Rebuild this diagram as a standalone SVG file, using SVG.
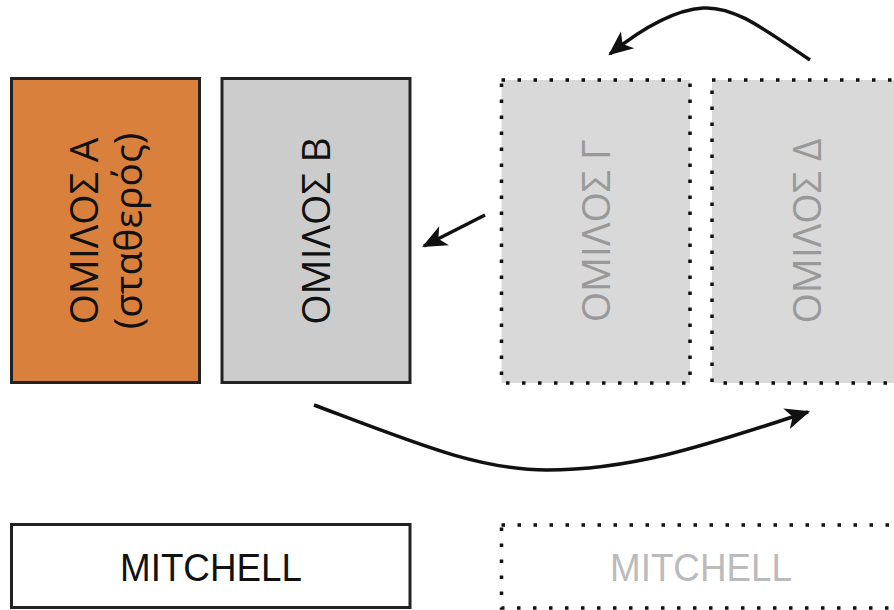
<svg xmlns="http://www.w3.org/2000/svg" width="894" height="610" viewBox="0 0 894 610">
  <style>
    .solid { stroke: #222; stroke-width: 3; }
    .dotted { stroke: #111; stroke-width: 3.5; stroke-dasharray: 3.5 12.5; }
    .label { font-family: "Open Sans", "Noto Sans", sans-serif; font-size: 39px; }
    .dark { fill: #111; }
    .faded { fill: #999; }
    .mitchell { font-family: "Liberation Sans", Arial, sans-serif; font-size: 38px; }
    .conn { fill: none; stroke: #111; stroke-width: 3.5; marker-end: url(#head); }
  </style>
  <defs>
    <marker id="head" markerUnits="userSpaceOnUse" markerWidth="30" markerHeight="30" viewBox="-24 -12 28 24" refX="0" refY="0" orient="auto">
      <path d="M2,0 L-21,-10 L-15,0 L-21,10 Z" fill="#111"/>
    </marker>
  </defs>

  <rect width="894" height="610" fill="#fff"/>

  <g id="group-a">
    <rect x="11.5" y="78.5" width="188" height="304" fill="#d9803c" class="solid"/>
    <text class="label dark" text-anchor="middle" transform="translate(98,231) rotate(-90)">ΟΜΙΛΟΣ Α</text>
    <text class="label dark" text-anchor="middle" transform="translate(142,231) rotate(-90)">(σταθερός)</text>
  </g>

  <g id="group-b">
    <rect x="222" y="78.5" width="188" height="304" fill="#cccccc" class="solid"/>
    <text class="label dark" text-anchor="middle" transform="translate(330,231) rotate(-90)">ΟΜΙΛΟΣ Β</text>
  </g>

  <g id="group-c">
    <rect x="501.5" y="80" width="188.5" height="303" fill="#d9d9d9" class="dotted"/>
    <text class="label faded" text-anchor="middle" transform="translate(610,231) rotate(-90)">ΟΜΙΛΟΣ Γ</text>
  </g>

  <g id="group-d">
    <rect x="712" y="80" width="200" height="303" fill="#d9d9d9" class="dotted"/>
    <text class="label faded" text-anchor="middle" transform="translate(821,231) rotate(-90)">ΟΜΙΛΟΣ Δ</text>
  </g>

  <g id="mitchell-current">
    <rect x="11.5" y="524.5" width="398.5" height="83" fill="#fff" class="solid"/>
    <text class="mitchell dark" x="211" y="581" text-anchor="middle" textLength="182" lengthAdjust="spacingAndGlyphs">MITCHELL</text>
  </g>

  <g id="mitchell-next">
    <rect x="501.5" y="525" width="400" height="83" fill="none" class="dotted"/>
    <text class="mitchell" fill="#bbb" x="701" y="581" text-anchor="middle" textLength="182" lengthAdjust="spacingAndGlyphs">MITCHELL</text>
  </g>

  <g id="connectors">
    <path class="conn" d="M810,60 C765,30 735,6 703,8 C672,10 640,30 610,54"/>
    <path class="conn" d="M485,215 L424,246"/>
    <path class="conn" d="M314,405 C420,445 480,470 547,470 C640,470 720,440 808,412"/>
  </g>
</svg>
